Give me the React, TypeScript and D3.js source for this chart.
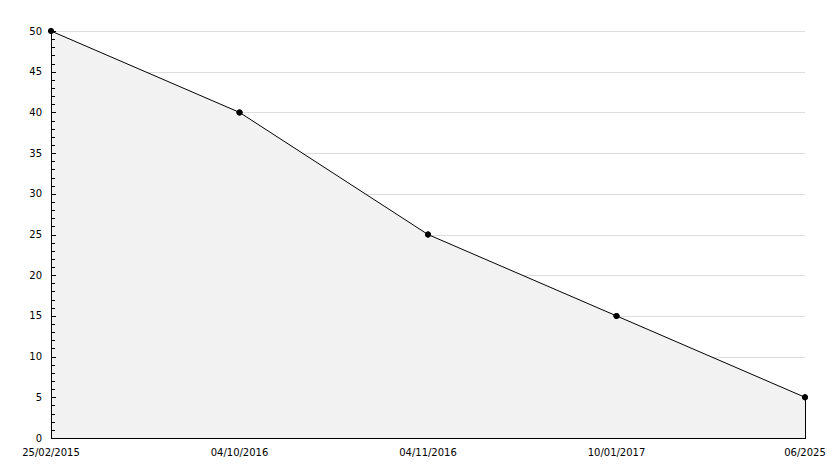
import React from "react";
import * as d3 from "d3";

const categories = ["25/02/2015", "04/10/2016", "04/11/2016", "10/01/2017", "06/2025"];
const values = [50, 40, 25, 15, 5];
const yTicks = [0, 5, 10, 15, 20, 25, 30, 35, 40, 45, 50];
const yMinor = d3.range(0, 51, 1);

export default function App() {
  const W = 834, H = 468;
  const left = 51, right = 805, top = 31, bottom = 438;
  const x = d3.scalePoint<string>().domain(categories).range([left, right]);
  const y = d3.scaleLinear().domain([0, 50]).range([bottom, top]);
  const pts: [number, number][] = categories.map((c, i) => [x(c)!, y(values[i])]);
  const line = d3.line()(pts)!;
  const area = d3.area<[number, number]>().x(d => d[0]).y0(bottom).y1(d => d[1])(pts)!;
  return (
    <svg width={W} height={H} style={{ position: "absolute", left: 0, top: 0, fontFamily: "DejaVu Sans, sans-serif" }}>
      <rect width={W} height={H} fill="#fff" />
      {yTicks.filter(t => t > 0).map(t => (
        <line key={t} x1={left} x2={right} y1={Math.round(y(t)) + 0.5} y2={Math.round(y(t)) + 0.5} stroke="#dddddd" />
      ))}
      <path d={area} fill="#f2f2f2" />
      <path d={line} fill="none" stroke="#000" strokeWidth={1} />
      <line x1={right + 0.5} x2={right + 0.5} y1={y(values[values.length - 1])} y2={bottom} stroke="#000" />
      <line x1={left + 0.5} x2={left + 0.5} y1={top} y2={bottom} stroke="#000" />
      <line x1={left} x2={right + 1} y1={bottom + 0.5} y2={bottom + 0.5} stroke="#000" />
      {yMinor.map(t => (
        <line key={"m" + t} x1={left} x2={t % 5 === 0 ? left + 5 : left + 4} y1={Math.round(y(t)) + 0.5} y2={Math.round(y(t)) + 0.5} stroke="#000" />
      ))}
      {yTicks.map(t => (
        <text key={"l" + t} x={42} y={y(t)} dy="0.35em" textAnchor="end" fontSize={10} fill="#000">{t}</text>
      ))}
      {categories.map(c => (
        <text key={c} x={x(c)!} y={452} dy="0.35em" textAnchor="middle" fontSize={10} fill="#000">{c}</text>
      ))}
      {pts.map((p, i) => (
        <g key={i}>
          <circle cx={p[0]} cy={p[1]} r={3} fill="#000" />
          <path d={d3.symbol(d3.symbolCross, 20)()!} transform={`translate(${p[0]},${p[1]})`} fill="#000" />
        </g>
      ))}
    </svg>
  );
}
